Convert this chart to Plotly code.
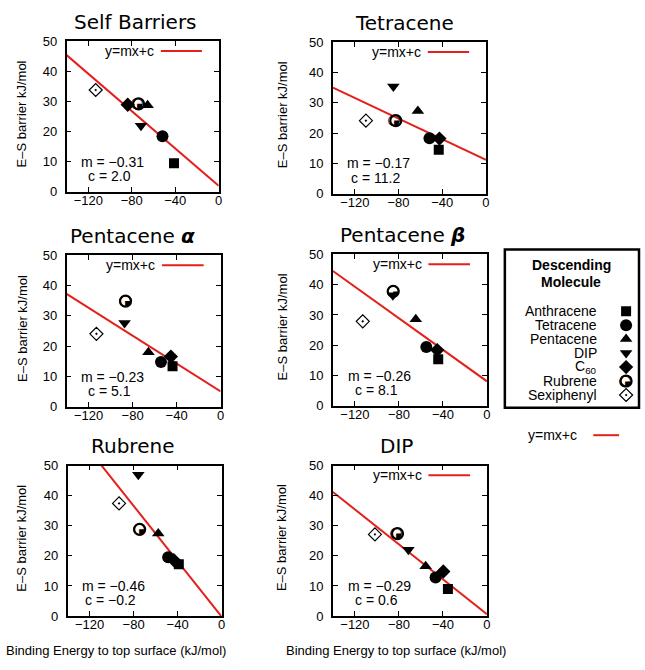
import plotly.graph_objects as go

W, H = 645, 670
SANS = "Liberation Sans, Arial, sans-serif"
TITLE_FONT = "DejaVu Sans, sans-serif"
RED = "#e3201b"

# ---- data -------------------------------------------------------------
molecules = ["Anthracene", "Tetracene", "Pentacene", "DIP", "C<sub>60</sub>", "Rubrene", "Sexiphenyl"]

panel_titles = ["Self Barriers", "Tetracene", "Pentacene <b><i>α</i></b>",
                "Pentacene <b><i>β</i></b>", "Rubrene", "DIP"]

# binding energy to top surface (kJ/mol), one value per descending molecule
self_x = [-41.1, -51.7, -65.4, -71.5, -83.7, -73.7, -113.2]
tet_x = [-43.2, -51.7, -62.3, -84.7, -42.6, -82.5, -109.8]
pen_a_x = [-43.7, -54.2, -65.6, -87.3, -45.2, -86.4, -112.9]
pen_b_x = [-44.3, -55.1, -64.7, -85.5, -45.2, -85.2, -112.9]
rub_x = [-38.9, -48.6, -57.6, -75.7, -43.5, -74.5, -93.2]
dip_x = [-35.5, -46.7, -55.7, -71.4, -39.7, -81.3, -101.8]

# E-S barrier (kJ/mol)
self_y = [9.5, 18.4, 28.7, 21.9, 28.9, 29.2, 33.8]
tet_y = [14.5, 18.3, 27.3, 35.4, 18.2, 24.1, 24.1]
pen_a_y = [13.4, 14.8, 18.0, 27.7, 16.6, 34.9, 24.1]
pen_b_y = [15.4, 19.4, 28.6, 36.5, 18.4, 37.8, 27.9]
rub_y = [17.2, 19.5, 27.4, 46.9, 18.6, 28.8, 37.4]
dip_y = [9.0, 12.8, 16.5, 22.0, 14.8, 27.4, 27.1]

# linear fits y = m x + c
slopes = [-0.31, -0.17, -0.23, -0.26, -0.46, -0.29]
intercepts = [2.0, 11.2, 5.1, 8.1, -0.2, 0.6]

x_ticks = [-120, -80, -40, 0]
y_ticks = [0, 10, 20, 30, 40, 50]
x_range = [-140, 0]
y_range = [0, 50]

panel_x = [self_x, tet_x, pen_a_x, pen_b_x, rub_x, dip_x]
panel_y = [self_y, tet_y, pen_a_y, pen_b_y, rub_y, dip_y]

# ---- styling ----------------------------------------------------------
symbols = ["square", "circle", "triangle-up", "triangle-down", "diamond", "circle-open", "diamond-open-dot"]
sizes = [10, 12, 11, 11, 11, 11, 10]
RUBRENE = 5
QUADRANT_GLYPH = "◔"   # rotated a quarter turn: filled lower-right quadrant

# plot boxes in pixels: left, right, top, bottom
boxes = [(67, 220, 35, 189), (335, 489, 36, 191),
         (67, 222, 254, 409), (335, 490, 253, 408),
         (68, 223, 469, 623), (335, 490, 469, 623)]
title_cx = [136, 407, 133, 405, 133, 399]


def fx(p):
    return p / W


def fy(p):
    return 1 - p / H


def marker_style(i):
    sym = symbols[i]
    if sym == "circle-open":
        return dict(symbol=sym, size=sizes[i], color="black", line=dict(color="black", width=2.2))
    return dict(symbol=sym, size=sizes[i], color="black",
                line=dict(color="black", width=1.2 if "open" in sym else 0))


def quadrant(x, y, xref, yref):
    return dict(x=x, y=y, xref=xref, yref=yref, text=QUADRANT_GLYPH, showarrow=False,
                textangle=90, font=dict(family=TITLE_FONT, size=15, color="black"),
                xanchor="center", yanchor="middle")


fig = go.Figure()
annotations = []
shapes = []

axis_common = dict(showline=True, linecolor="black", linewidth=1.5, mirror="ticks",
                   ticks="inside", ticklen=5, tickwidth=1.2, tickcolor="black",
                   showgrid=False, zeroline=False, fixedrange=True,
                   tickfont=dict(family=SANS, size=13, color="black"))

for k in range(6):
    n = "" if k == 0 else str(k + 1)
    xa, ya = "x" + n, "y" + n
    l, r, t, b = boxes[k]
    fig.layout["xaxis" + n] = dict(axis_common, domain=[fx(l), fx(r)], range=x_range,
                                   tickvals=x_ticks, anchor=ya, ticklabelstandoff=-4)
    fig.layout["yaxis" + n] = dict(axis_common, domain=[fy(b), fy(t)], range=y_range,
                                   tickvals=y_ticks, anchor=xa, ticklabelstandoff=5)

    m, c = slopes[k], intercepts[k]
    fig.add_trace(go.Scatter(x=x_range, y=[m * x_range[0] + c, m * x_range[1] + c],
                             mode="lines", line=dict(color=RED, width=2),
                             xaxis=xa, yaxis=ya, showlegend=False, hoverinfo="skip"))
    xs, ys = panel_x[k], panel_y[k]
    for i, name in enumerate(molecules):
        fig.add_trace(go.Scatter(x=[xs[i]], y=[ys[i]], mode="markers", marker=marker_style(i),
                                 xaxis=xa, yaxis=ya, showlegend=False, name=name))
    annotations.append(quadrant(xs[RUBRENE], ys[RUBRENE], xa, ya))

    # panel title
    annotations.append(dict(x=fx(title_cx[k]), y=fy(t - 20), xref="paper", yref="paper",
                            text=panel_titles[k], showarrow=False, xanchor="center",
                            yanchor="middle", font=dict(family=TITLE_FONT, size=20, color="black")))
    # y axis title
    annotations.append(dict(x=fx(22 if l < 200 else 284), y=fy((t + b) / 2 - 3),
                            xref="paper", yref="paper", text="E–S barrier kJ/mol",
                            textangle=-90, showarrow=False, xanchor="center", yanchor="middle",
                            font=dict(family=SANS, size=13, color="black")))
    # fit parameters
    m_txt = f"m = {m:.2f}".replace("-", "−")
    c_txt = f"c = {c:.1f}".replace("-", "−")
    annotations.append(dict(x=0.30, y=0.20, xref=xa + " domain", yref=ya + " domain",
                            text=m_txt, showarrow=False, xanchor="center", yanchor="middle",
                            font=dict(family=SANS, size=14, color="black")))
    annotations.append(dict(x=0.28, y=0.105, xref=xa + " domain", yref=ya + " domain",
                            text=c_txt, showarrow=False, xanchor="center", yanchor="middle",
                            font=dict(family=SANS, size=14, color="black")))
    # fit key
    if k != 4:
        annotations.append(dict(x=0.59, y=0.935, xref=xa + " domain", yref=ya + " domain",
                                text="y=mx+c", showarrow=False, xanchor="right", yanchor="middle",
                                font=dict(family=SANS, size=14, color="black")))
        shapes.append(dict(type="line", xref=xa + " domain", yref=ya + " domain",
                           x0=0.62, x1=0.89, y0=0.935, y1=0.935,
                           line=dict(color=RED, width=2)))

# x axis titles for bottom row
for cx in (117, 398):
    annotations.append(dict(x=fx(cx), y=fy(658), xref="paper", yref="paper",
                            text="Binding Energy to top surface (kJ/mol)", showarrow=False,
                            xanchor="center", yanchor="middle",
                            font=dict(family=SANS, size=13, color="black")))

# ---- key for descending molecules ------------------------------------
fig.layout["xaxis7"] = dict(domain=[fx(615), fx(645)], range=[-1, 1], visible=False,
                            fixedrange=True, anchor="y7")
fig.layout["yaxis7"] = dict(domain=[fy(404), fy(304)], range=[6.5, -0.5], visible=False,
                            fixedrange=True, anchor="x7")
for i, name in enumerate(molecules):
    fig.add_trace(go.Scatter(x=[0], y=[i], mode="markers", marker=marker_style(i), xaxis="x7",
                             yaxis="y7", showlegend=False, hoverinfo="skip"))
    if i == RUBRENE:
        annotations.append(quadrant(0, i, "x7", "y7"))
    annotations.append(dict(x=fx(603), y=i, xref="paper", yref="y7", text=name,
                            showarrow=False, xanchor="right", yanchor="middle",
                            font=dict(family=SANS, size=14, color="black")))

annotations.append(dict(x=fx(575), y=fy(264), xref="paper", yref="paper", text="<b>Descending</b>",
                        showarrow=False, xanchor="center", yanchor="middle",
                        font=dict(family=SANS, size=14, color="black")))
annotations.append(dict(x=fx(575), y=fy(281), xref="paper", yref="paper", text="<b>Molecule</b>",
                        showarrow=False, xanchor="center", yanchor="middle",
                        font=dict(family=SANS, size=14, color="black")))
shapes.append(dict(type="rect", xref="paper", yref="paper", x0=fx(508), x1=fx(643),
                   y0=fy(410), y1=fy(248), line=dict(color="black", width=2.5)))

# key for the Rubrene panel fit, placed outside its plot
annotations.append(dict(x=fx(583), y=fy(438), xref="paper", yref="paper", text="y=mx+c",
                        showarrow=False, xanchor="right", yanchor="middle",
                        font=dict(family=SANS, size=14, color="black")))
shapes.append(dict(type="line", xref="paper", yref="paper", x0=fx(597), x1=fx(623),
                   y0=fy(438), y1=fy(438), line=dict(color=RED, width=2)))

fig.update_layout(width=W, height=H, margin=dict(l=0, r=0, t=0, b=0),
                  paper_bgcolor="white", plot_bgcolor="white",
                  annotations=annotations, shapes=shapes, showlegend=False)

fig.write_html("out.html", config={"displayModeBar": False})
